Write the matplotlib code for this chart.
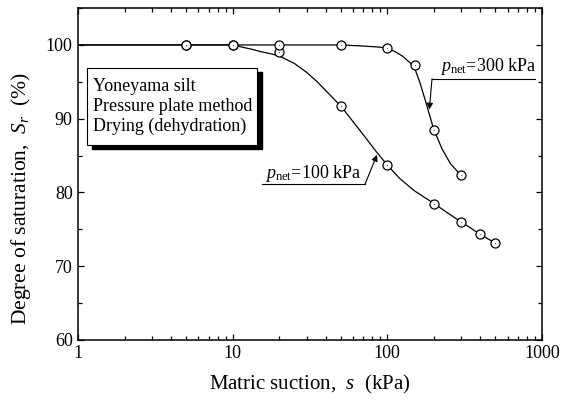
import numpy as np
import matplotlib
matplotlib.use("Agg")
import matplotlib.pyplot as plt
from matplotlib.patches import Rectangle
from matplotlib.ticker import LogLocator, MultipleLocator, NullFormatter, FixedLocator

plt.rcParams['font.family'] = ['Liberation Serif', 'DejaVu Serif']
plt.rcParams['mathtext.fontset'] = 'custom'
plt.rcParams['mathtext.rm'] = 'Liberation Serif'
plt.rcParams['mathtext.it'] = 'Liberation Serif:italic'

# measured points (matric suction in kPa, degree of saturation in %)
s_100 = [5, 10, 20, 50, 100, 200, 300, 400, 500]
sr_100 = [100, 100, 99.1, 91.7, 83.7, 78.45, 76.0, 74.3, 73.1]
s_300 = [5, 10, 20, 50, 100, 150, 200, 300]
sr_300 = [100, 100, 100, 100, 99.55, 97.3, 88.4, 82.4]

# fitted curves traced along their length
fit_s_100 = [1, 9, 10, 11, 12, 13.5, 15, 17.5, 20, 25, 30, 35, 40, 50, 60, 70,
             85, 100, 120, 150, 200, 250, 300, 400, 500]
fit_sr_100 = [100, 100, 99.95, 99.8, 99.62, 99.38, 99.12, 98.82, 98.5, 97.5,
              96.3, 95.05, 93.8, 91.7, 89.6, 87.8, 85.5, 83.7, 81.9, 80.2,
              78.5, 77.1, 76.0, 74.3, 73.1]
fit_s_300 = [1, 50, 70, 90, 100, 112, 125, 140, 150, 163, 176, 190, 200,
             226, 256, 300]
fit_sr_300 = [100, 100, 99.85, 99.7, 99.55, 99.1, 98.5, 97.6, 96.9, 94.8,
              92.5, 90.1, 88.5, 85.9, 83.9, 82.3]

fig = plt.figure(figsize=(5.71, 4.05), dpi=100)
ax = fig.add_axes([0.137, 0.161, 0.812, 0.819])

ax.plot(fit_s_100, fit_sr_100, color='k', lw=0.9, zorder=2)
ax.plot(fit_s_300, fit_sr_300, color='k', lw=0.9, zorder=2)
for s, sr in [(s_100, sr_100), (s_300, sr_300)]:
    ax.plot(s, sr, 'o', ms=6.5, mfc='white', mec='k', mew=0.9, zorder=3)
    ax.plot(s, sr, 'o', ms=0.8, mew=0, color='0.3', zorder=4)

ax.set_xscale('log')
ax.set_xlim(1, 1000)
ax.set_ylim(60, 105)
ax.xaxis.set_major_locator(FixedLocator([1, 10, 100, 1000]))
ax.set_xticklabels(['1', '10', '100', '1000'])
ax.xaxis.set_minor_locator(LogLocator(base=10, subs=np.arange(2, 10)))
ax.xaxis.set_minor_formatter(NullFormatter())
ax.yaxis.set_major_locator(FixedLocator([60, 70, 80, 90, 100]))
ax.yaxis.set_minor_locator(MultipleLocator(5))
ax.tick_params(which='both', direction='in', top=True, right=True,
               labelsize=13, width=0.9)
ax.tick_params(which='major', length=4.5, pad=4)
ax.tick_params(which='minor', length=3)
for sp in ax.spines.values():
    sp.set_linewidth(1.1)

ax.set_xlabel('Matric suction,  $s$  (kPa)', fontsize=15, labelpad=8)
ax.set_ylabel('Degree of saturation,  $S_r$  (%)', fontsize=15.5)
ax.yaxis.set_label_coords(-0.098, 0.425)

# text box with a drop shadow
tr = ax.transAxes
ax.add_patch(Rectangle((0.029, 0.575), 0.368, 0.231, transform=tr,
                       facecolor='k', edgecolor='k', zorder=5))
ax.add_patch(Rectangle((0.018, 0.588), 0.368, 0.231, transform=tr,
                       facecolor='white', edgecolor='k', lw=0.8, zorder=6))
ax.text(0.031, 0.703, 'Yoneyama silt\nPressure plate method\nDrying (dehydration)',
        transform=tr, fontsize=13, va='center', ha='left',
        linespacing=1.22, zorder=7)

# curve labels with leader arrows
ax.text(219, 96.4, r'$p_{\mathrm{net}}$=300 kPa', fontsize=13, va='baseline')
ax.plot([194.6, 903], [95.42, 95.42], color='k', lw=0.8, clip_on=False)
ax.annotate('', xy=(187, 91.25), xytext=(194.6, 95.42),
            arrowprops=dict(arrowstyle='-|>', color='k', lw=0.8,
                            mutation_scale=9, shrinkA=0, shrinkB=0))

ax.text(16.2, 81.9, r'$p_{\mathrm{net}}$=100 kPa', fontsize=13, va='baseline')
ax.plot([15.5, 71.8], [81.14, 81.14], color='k', lw=0.8)
ax.annotate('', xy=(85.8, 85.1), xytext=(71.8, 81.14),
            arrowprops=dict(arrowstyle='-|>', color='k', lw=0.8,
                            mutation_scale=9, shrinkA=0, shrinkB=0))

fig.savefig('out.png', dpi=100)
